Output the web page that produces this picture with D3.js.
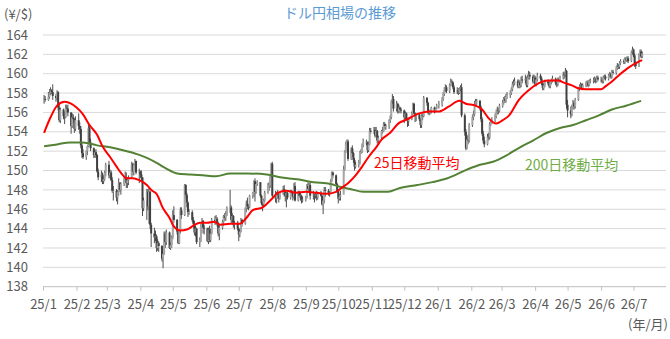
<!DOCTYPE html>
<html lang="ja">
<head>
<meta charset="UTF-8">
<title>ドル円相場の推移</title>
<script src="https://cdn.jsdelivr.net/npm/d3@7"></script>
<style>
    body { margin: 0; background: #fff; }
    svg text { font-family: "Noto Sans CJK JP", "Noto Sans", sans-serif; }
</style>
</head>
<body>
<svg width="670" height="339"></svg>
<script>
// daily candles, one value per trading day from 2025-01-02 (open = previous close)
const firstOpen = 157.2;
const closes = [
    // 2025
    157.4,157.3,157.6,158.0,158.3,158.1,157.7,157.5,158.1,156.5,155.2,156.3,155.6,155.5,156.5,156.4,156.0,154.6,155.5,155.3,154.3,155.2,
    154.6,154.3,152.6,151.8,151.4,152.0,152.5,154.4,152.9,152.3,151.6,151.9,151.6,149.9,149.3,149.6,148.9,149.1,149.8,150.6,
    149.5,149.8,149.0,147.9,147.9,147.2,147.8,148.7,148.0,148.6,149.2,149.3,148.7,149.0,149.3,150.7,149.9,150.6,151.0,149.8,149.9,
    149.6,149.3,146.1,146.9,147.8,146.3,147.8,144.4,143.5,143.1,143.2,142.0,142.5,142.2,140.9,141.4,143.5,142.6,143.6,142.0,142.3,143.1,
    145.4,144.9,143.7,142.5,143.8,145.9,145.4,148.5,147.5,146.7,145.7,145.7,144.9,144.5,143.6,144.0,142.6,142.8,144.3,144.8,144.1,144.0,
    142.7,143.9,142.8,143.5,144.9,144.6,145.0,144.6,143.5,144.1,144.7,145.3,145.1,145.5,146.1,146.2,144.9,145.3,144.4,144.6,144.0,
    143.4,143.7,144.9,144.5,146.1,146.6,146.3,146.2,147.4,147.7,148.9,147.8,148.6,148.8,147.4,146.6,146.5,146.9,147.7,148.5,148.5,149.4,150.7,
    147.4,147.1,147.7,147.5,147.1,147.7,148.1,147.8,147.4,147.7,147.2,147.8,147.7,147.3,148.4,146.9,147.8,147.4,147.4,146.9,147.0,
    147.2,148.4,148.1,148.5,147.4,147.5,147.4,147.5,147.2,147.7,147.4,146.5,146.9,148.0,147.9,147.7,147.7,148.9,149.8,149.5,148.6,147.9,
    147.1,147.3,147.5,150.1,152.0,152.7,153.0,151.2,152.3,151.8,151.1,150.4,150.6,150.8,151.9,151.9,152.6,152.9,152.9,152.1,152.7,154.1,154.0,
    154.2,153.6,154.1,153.1,153.4,154.1,154.1,154.8,154.6,154.6,155.2,155.5,157.1,157.4,156.4,156.9,156.1,156.5,156.3,156.2,
    155.5,155.9,155.3,155.1,155.3,155.9,156.9,155.9,155.6,155.8,155.3,154.7,155.7,155.6,157.5,157.0,156.0,155.9,156.1,156.5,156.1,156.4,156.7,
    // 2026
    156.9,157.4,157.9,158.3,158.6,158.2,158.8,159.2,159.1,158.6,158.1,158.3,158.0,158.4,158.6,155.7,154.0,152.3,153.2,153.1,154.7,
    155.5,155.8,156.9,157.1,157.2,156.5,155.3,153.8,153.1,152.7,153.5,153.4,154.8,155.0,155.2,155.6,156.0,156.3,156.1,156.7,
    157.0,157.4,157.2,157.6,157.8,158.0,158.4,158.9,159.0,159.2,158.7,159.1,158.8,159.4,159.3,159.5,158.8,159.6,159.9,159.7,159.2,159.6,
    158.9,159.4,159.8,159.5,159.0,158.5,158.8,159.2,159.0,158.7,159.1,159.3,159.5,159.0,158.9,159.4,159.3,159.6,160.0,159.8,160.3,156.8,
    156.2,155.8,156.5,157.0,156.6,157.3,158.4,158.6,158.9,158.5,158.8,158.9,159.1,158.8,159.2,159.3,159.3,159.5,159.2,159.6,159.4,
    159.4,159.2,159.6,159.7,159.5,159.8,160.0,159.7,160.2,160.1,160.6,160.9,160.7,161.1,161.3,161.2,161.5,161.4,161.6,161.3,162.2,162.5,
    161.9,161.0,160.8,161.9,162.3,161.8,162.1
];
const highs = [
    157.8,157.7,158.1,158.4,158.6,158.4,158.9,157.9,158.3,158.2,156.8,156.5,156.4,156.1,156.8,156.8,156.8,156.0,155.9,155.8,155.4,155.6,
    155.9,155.0,154.6,152.9,152.2,152.1,152.6,154.8,154.6,153.3,152.4,152.1,152.2,151.7,150.2,150.0,149.8,149.5,150.0,150.8,
    151.0,150.1,150.0,149.3,148.4,148.1,148.0,149.2,148.8,148.8,149.3,149.9,149.8,149.3,149.5,150.9,150.8,150.7,151.2,151.0,150.2,
    150.0,150.0,149.3,147.2,148.1,148.1,148.2,147.9,144.6,144.1,143.8,143.4,142.9,142.7,142.3,141.6,143.7,143.7,143.9,143.7,142.6,143.3,
    145.9,146.3,145.0,143.9,143.9,146.2,146.2,148.6,148.6,147.7,146.8,146.0,145.9,145.2,144.8,144.3,144.1,143.1,144.5,145.1,144.9,144.4,
    144.1,144.1,144.3,144.0,145.1,145.3,145.4,145.2,144.7,144.4,144.9,145.4,145.6,145.8,146.3,148.0,146.4,145.6,145.4,144.8,144.8,
    144.1,143.9,145.1,145.0,146.2,146.9,147.2,146.5,147.5,147.8,149.0,149.2,148.8,149.0,148.8,147.5,146.8,147.1,147.9,148.7,148.8,149.5,150.8,
    150.9,147.9,147.8,148.0,147.6,147.8,148.4,148.5,147.9,147.8,147.8,148.0,148.0,147.7,148.7,148.8,147.9,147.9,147.7,147.5,147.3,
    147.4,148.6,148.8,148.7,148.8,147.9,147.6,147.8,147.9,147.8,147.9,147.5,147.0,148.3,148.3,148.1,147.9,149.1,149.9,149.9,149.6,148.7,
    148.0,147.6,147.9,150.5,152.1,153.0,153.2,153.2,152.4,152.6,151.9,151.3,150.9,151.1,152.0,152.2,152.8,153.3,153.2,153.0,153.0,154.4,154.4,
    154.5,154.5,154.5,154.2,153.6,154.2,154.5,155.0,155.0,154.8,155.3,155.7,157.3,157.9,157.7,157.2,157.0,156.8,156.6,156.5,
    156.3,156.1,156.0,155.4,155.4,156.1,157.0,157.0,156.0,155.9,155.9,155.4,155.8,155.9,157.7,157.6,157.1,156.2,156.3,156.6,156.6,156.5,156.9,
    157.2,157.6,158.1,158.6,158.9,158.8,159.0,159.5,159.4,159.2,158.8,158.6,158.5,158.6,158.8,159.0,155.9,154.3,153.6,153.7,154.9,
    155.8,156.2,157.2,157.4,157.4,157.3,156.7,155.5,154.1,153.5,153.8,153.9,155.0,155.3,155.5,155.9,156.3,156.6,156.5,156.9,
    157.3,157.6,157.7,157.9,158.1,158.3,158.6,159.2,159.4,159.6,159.4,159.4,159.3,159.7,159.8,159.9,159.7,159.9,160.3,160.2,159.9,159.9,
    159.8,159.6,160.1,160.0,159.7,159.2,159.0,159.4,159.4,159.2,159.3,159.5,159.8,159.6,159.2,159.6,159.6,159.8,160.2,160.2,160.6,160.4,
    157.3,156.6,156.8,157.3,157.2,157.5,158.6,158.9,159.1,159.0,159.0,159.2,159.3,159.3,159.4,159.5,159.6,159.7,159.6,159.8,159.8,
    159.7,159.6,159.8,159.9,159.9,160.0,160.2,160.1,160.4,160.4,160.8,161.1,161.0,161.3,161.5,161.5,161.7,161.7,161.8,161.8,162.4,162.8,
    162.6,162.1,161.3,162.1,162.5,162.5,162.3
];
const lows = [
    156.9,157.1,157.2,157.4,157.8,157.9,157.3,157.1,157.3,156.2,155.0,154.9,155.3,154.8,155.4,155.9,155.6,153.8,154.4,154.9,153.9,154.1,
    154.2,153.8,152.3,151.3,151.2,151.1,151.6,152.4,152.7,152.0,151.3,151.3,151.3,149.8,149.0,148.8,148.6,148.6,148.9,149.4,
    149.2,149.2,148.9,147.7,146.9,146.8,146.5,147.4,147.8,147.5,148.4,149.0,148.2,148.2,148.5,149.2,149.5,149.5,150.4,149.6,148.7,
    149.2,148.9,145.3,145.8,144.9,145.9,144.5,144.0,142.1,142.5,142.7,141.6,141.7,141.6,140.6,139.9,141.3,142.0,142.3,141.9,141.8,142.0,
    142.9,144.6,143.4,142.4,142.4,143.5,145.0,145.3,147.1,146.2,145.2,145.4,144.7,144.1,143.3,143.2,142.4,142.1,142.6,144.1,143.5,143.4,
    142.6,142.4,142.6,142.6,143.4,144.4,144.4,144.2,143.2,142.8,143.9,144.3,144.8,144.8,145.3,145.6,144.6,144.6,144.1,143.9,143.8,
    142.7,143.1,143.6,144.2,144.4,145.7,146.0,145.9,146.1,147.1,147.3,146.8,147.6,148.4,147.2,146.4,145.8,146.2,146.7,147.6,147.9,148.2,149.3,
    147.1,146.7,146.6,147.1,146.7,147.0,147.5,147.3,146.8,146.2,147.0,147.0,147.5,146.9,147.1,146.8,146.8,147.2,146.9,146.6,146.7,
    146.8,147.1,147.9,147.9,147.0,147.0,146.7,147.1,146.9,147.0,147.3,146.4,145.5,146.6,147.3,147.4,147.3,147.6,148.8,149.2,148.5,147.7,
    146.6,146.9,146.9,149.4,150.0,151.8,152.6,151.0,151.1,151.4,150.8,150.0,150.2,150.3,150.6,151.7,151.8,152.4,152.6,151.8,151.9,152.6,153.8,
    153.8,153.4,153.5,152.8,152.8,153.2,153.8,154.0,154.3,154.2,154.3,154.9,155.3,156.9,156.1,156.1,155.9,155.9,156.0,155.9,
    154.9,155.2,155.2,154.5,154.6,155.2,155.8,155.8,155.0,155.1,155.1,154.4,154.4,155.2,155.5,156.7,155.8,155.7,155.8,155.9,155.9,156.0,156.3,
    156.4,156.6,157.2,157.7,158.1,158.0,158.0,158.7,158.8,158.4,157.9,157.9,157.8,157.9,158.2,155.5,153.6,152.1,152.2,152.7,152.9,
    154.5,155.2,155.6,156.6,156.8,156.2,155.0,153.6,152.8,152.4,152.6,153.1,153.2,154.6,154.8,155.0,155.4,155.8,155.8,156.0,
    156.5,156.8,157.0,157.0,157.4,157.5,157.8,158.2,158.6,158.8,158.5,158.5,158.5,158.6,159.0,159.0,158.6,158.6,159.4,159.4,159.0,159.0,
    158.7,158.7,159.2,159.3,158.8,158.3,158.3,158.6,158.8,158.5,158.5,158.9,159.1,158.8,158.6,158.7,159.1,159.1,159.4,159.5,159.7,156.4,
    155.5,155.4,155.6,156.3,156.3,156.4,157.2,158.2,158.4,158.3,158.3,158.6,158.7,158.6,158.7,159.0,159.0,159.1,159.0,159.1,159.2,
    159.1,159.0,159.0,159.4,159.3,159.3,159.6,159.5,159.5,159.9,159.9,160.4,160.5,160.5,160.9,161.0,161.0,161.2,161.2,161.1,161.2,162.0,
    161.7,160.7,160.5,160.7,161.7,161.6,161.6
];

// moving averages
const ma25 = [
    ["2025-01-02",153.9],["2025-01-08",155.5],["2025-01-14",156.7],["2025-01-21",157.1],["2025-01-27",156.9],
    ["2025-02-01",156.5],["2025-02-07",155.8],["2025-02-13",154.7],["2025-02-20",153.7],["2025-02-25",152.5],
    ["2025-03-04",151.4],["2025-03-10",150.4],["2025-03-16",149.5],["2025-03-19",149.2],["2025-03-25",149.2],
    ["2025-03-31",149.0],["2025-04-07",148.5],["2025-04-12",147.9],["2025-04-16",147.6],["2025-04-22",146.1],
    ["2025-04-25",145.6],["2025-04-28",145.1],["2025-05-01",144.4],["2025-05-05",143.9],["2025-05-08",143.8],
    ["2025-05-14",143.9],["2025-05-20",144.3],["2025-05-26",144.6],["2025-06-02",144.6],["2025-06-08",144.7],
    ["2025-06-14",144.4],["2025-06-23",144.5],["2025-07-02",144.5],["2025-07-08",145.1],["2025-07-14",145.9],
    ["2025-07-23",146.2],["2025-07-31",147.0],["2025-08-06",147.7],["2025-08-14",147.9],["2025-08-23",147.7],
    ["2025-09-01",147.8],["2025-09-11",147.7],["2025-09-20",147.6],["2025-09-29",147.8],["2025-10-04",148.2],
    ["2025-10-11",148.8],["2025-10-17",149.5],["2025-10-23",150.4],["2025-10-29",151.4],["2025-11-05",152.4],
    ["2025-11-10",153.2],["2025-11-18",153.9],["2025-11-26",154.9],["2025-12-02",155.2],["2025-12-15",155.9],
    ["2025-12-24",156.1],["2026-01-02",156.1],["2026-01-11",156.6],["2026-01-21",157.2],["2026-01-27",156.9],
    ["2026-02-05",156.7],["2026-02-11",156.3],["2026-02-17",155.4],["2026-02-24",154.85],["2026-03-02",155.2],
    ["2026-03-08",155.7],["2026-03-17",157.3],["2026-03-26",158.3],["2026-04-04",159.0],["2026-04-13",159.3],
    ["2026-04-23",159.3],["2026-04-27",159.1],["2026-05-05",158.8],["2026-05-11",158.5],["2026-05-18",158.4],
    ["2026-06-01",158.4],["2026-06-05",158.7],["2026-06-11",159.2],["2026-06-17",159.8],["2026-06-26",160.6],
    ["2026-07-05",161.2],["2026-07-09",161.4]
];
const ma200 = [
    ["2025-01-02",152.5],["2025-01-14",152.7],["2025-01-26",152.9],["2025-02-07",152.9],["2025-02-20",152.6],
    ["2025-03-04",152.4],["2025-03-16",152.1],["2025-03-29",151.7],["2025-04-07",151.3],["2025-04-16",150.8],
    ["2025-04-25",150.2],["2025-05-05",149.7],["2025-05-17",149.6],["2025-05-29",149.5],["2025-06-10",149.4],
    ["2025-06-23",149.7],["2025-07-08",149.7],["2025-07-27",149.6],["2025-08-08",149.3],["2025-08-24",149.1],
    ["2025-09-08",148.8],["2025-09-24",148.6],["2025-10-03",148.3],["2025-10-12",148.1],["2025-10-24",147.8],
    ["2025-11-06",147.8],["2025-11-16",147.8],["2025-11-27",148.2],["2025-12-13",148.5],["2025-12-27",148.8],
    ["2026-01-10",149.2],["2026-01-28",150.1],["2026-02-09",150.6],["2026-02-21",150.9],["2026-03-06",151.6],
    ["2026-03-18",152.4],["2026-03-30",153.1],["2026-04-12",153.9],["2026-04-24",154.4],["2026-05-06",154.7],
    ["2026-05-18",155.2],["2026-05-30",155.7],["2026-06-11",156.3],["2026-06-24",156.7],["2026-07-08",157.2]
];
const yTicks = [138,140,142,144,146,148,150,152,154,156,158,160,162,164];

const parse = d3.timeParse("%Y-%m-%d");
const svg = d3.select("svg");
const plotLeft = 43, plotRight = 666, plotTop = 35, plotBottom = 286.7;

const x = d3.scaleTime()
    .domain([parse("2025-01-01"), parse("2026-07-31")])
    .range([plotLeft, plotRight]);
const y = d3.scaleLinear().domain([138, 164]).range([plotBottom, plotTop]);

// trading days: weekdays, skipping new year's day
const days = d3.timeDay.range(parse("2025-01-02"), parse("2026-07-10"))
    .filter(d => d.getDay() % 6 !== 0 && !(d.getMonth() === 0 && d.getDate() === 1));
const candles = closes.map((c, i) => ({
    date: days[i], o: i ? closes[i - 1] : firstOpen, c: c, h: highs[i], l: lows[i]
})).filter(d => d.date);

// grid
svg.append("g").selectAll("line").data(yTicks).join("line")
    .attr("x1", plotLeft).attr("x2", plotRight)
    .attr("y1", d => y(d)).attr("y2", d => y(d))
    .attr("stroke", d => d === 138 ? "#bfbfbf" : "#d9d9d9").attr("stroke-width", 1);

svg.append("g").selectAll("text").data(yTicks).join("text")
    .attr("x", 28).attr("y", d => y(d)).attr("dy", "0.36em")
    .attr("text-anchor", "end").attr("font-size", 13).attr("fill", "#595959")
    .text(d => d);

// x axis
const xAxis = svg.append("g").attr("transform", `translate(0,${plotBottom})`)
    .call(d3.axisBottom(x)
        .tickValues(d3.timeMonth.range(parse("2025-01-01"), parse("2026-08-01")))
        .tickFormat(d3.timeFormat("%y/%-m"))
        .tickSize(4).tickPadding(9));
xAxis.select(".domain").remove();
xAxis.selectAll("line").attr("stroke", "#bfbfbf");
xAxis.selectAll("text").attr("font-size", 13).attr("fill", "#595959")
    .style("font-family", "'Noto Sans CJK JP', sans-serif");

// candles
const cg = svg.append("g");
cg.selectAll("line").data(candles).join("line")
    .attr("x1", d => x(d.date)).attr("x2", d => x(d.date))
    .attr("y1", d => y(d.h)).attr("y2", d => y(d.l))
    .attr("stroke", "#4d4d4d").attr("stroke-width", 1);
cg.selectAll("rect").data(candles).join("rect")
    .attr("x", d => x(d.date) - 1).attr("width", 2)
    .attr("y", d => y(Math.max(d.o, d.c)))
    .attr("height", d => Math.max(0.8, Math.abs(y(d.o) - y(d.c))))
    .attr("fill", d => d.c >= d.o ? "#a6a6a6" : "#404040");

// moving averages
const line = d3.line()
    .x(d => x(parse(d[0]))).y(d => y(d[1]))
    .curve(d3.curveMonotoneX);
svg.append("path").datum(ma200).attr("d", line)
    .attr("fill", "none").attr("stroke", "#548235").attr("stroke-width", 2);
svg.append("path").datum(ma25).attr("d", line)
    .attr("fill", "none").attr("stroke", "#ff0000").attr("stroke-width", 2);

// texts
svg.append("text").attr("x", 340).attr("y", 18).attr("text-anchor", "middle")
    .attr("font-size", 14).attr("fill", "#5b9bd5").text("ドル円相場の推移");
svg.append("text").attr("x", 4).attr("y", 19).attr("font-size", 13)
    .attr("fill", "#595959").text("(¥/$)");
svg.append("text").attr("x", 668).attr("y", 329).attr("text-anchor", "end")
    .attr("font-size", 13).attr("fill", "#595959").text("(年/月)");
svg.append("text").attr("x", 374).attr("y", 168).attr("font-size", 14)
    .attr("fill", "#ff0000").text("25日移動平均");
svg.append("text").attr("x", 525).attr("y", 170).attr("font-size", 14)
    .attr("fill", "#70ad47").text("200日移動平均");
</script>
</body>
</html>
